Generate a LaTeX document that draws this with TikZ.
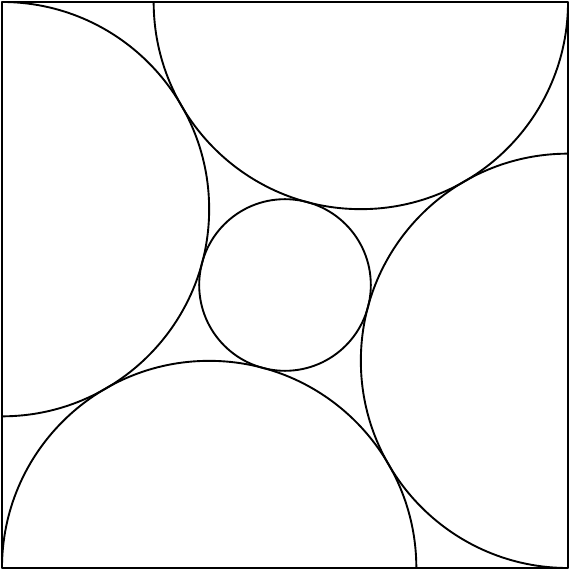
\documentclass[tikz,border=0pt]{standalone}
\usepackage{tkz-euclide}

\begin{document}
\begin{tikzpicture}[line width=0.95pt]
    \useasboundingbox (-0.035,-0.035) rectangle (10.035,10.035);
    \pgfmathsetmacro{\r}{(-10+sqrt(300))/2}
    \pgfmathsetmacro{\s}{10-\r}
    \pgfmathsetmacro{\q}{sqrt(25+(5-\r)^2)-\r}
    \tkzDefPoints{0/0/A, 10/0/B, 10/10/C, 0/10/D, 5/5/O}
    \tkzDrawPolygon[line width=0.95pt](A,B,C,D)
    \tkzDefPoints{0/\s/L, \s/10/T, 10/\r/R, \r/0/U}
    % four half discs round the square
    \draw (D) arc[start angle=90, end angle=-90, radius=\r];
    \draw (C) arc[start angle=0, end angle=-180, radius=\r];
    \draw (B) arc[start angle=-90, end angle=-270, radius=\r];
    \draw (A) arc[start angle=180, end angle=0, radius=\r];
    \draw (O) circle (\q);
\end{tikzpicture}
\end{document}
